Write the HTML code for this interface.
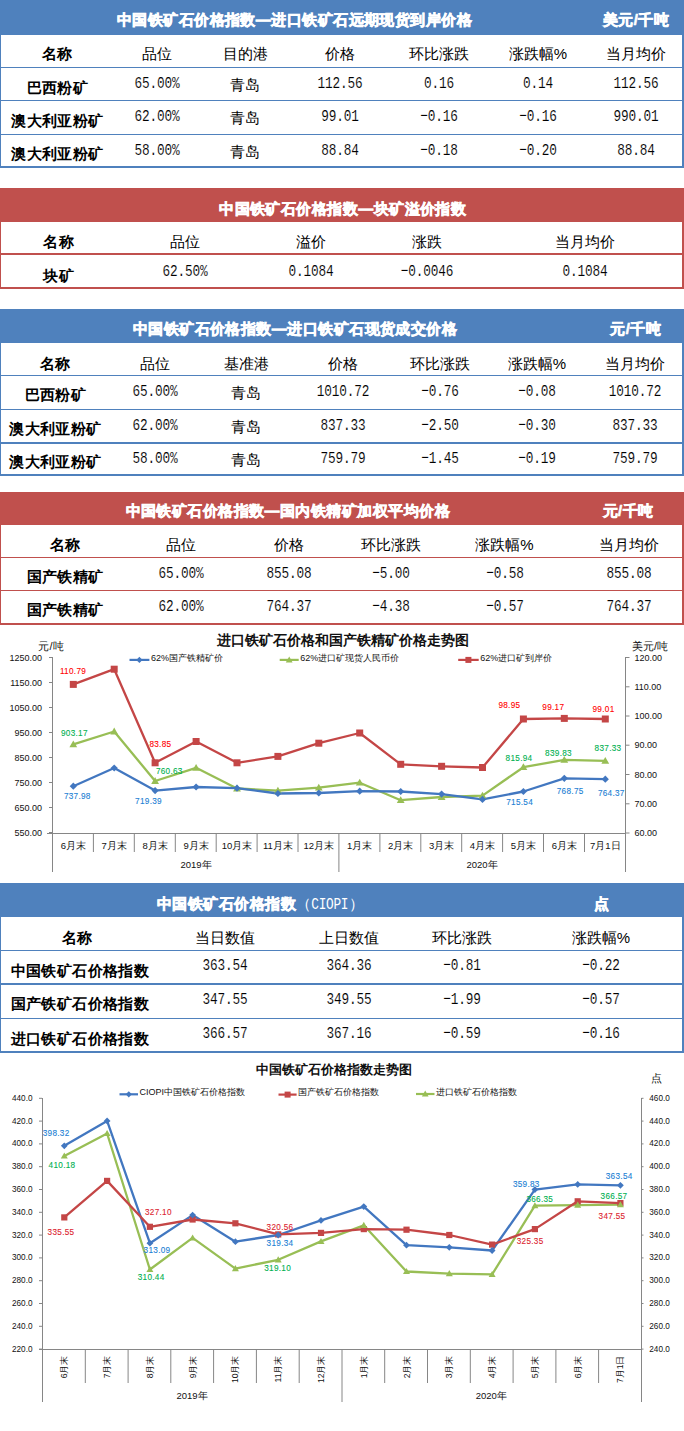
<!DOCTYPE html>
<html><head><meta charset="utf-8"><style>
html,body{margin:0;padding:0;background:#fff}
body{width:684px;height:1431px;position:relative;overflow:hidden;font-family:"Liberation Sans", sans-serif}
.t{position:absolute;white-space:nowrap;transform:translate(-50%,-50%);line-height:1}
.n{font-family:"Liberation Mono",monospace;letter-spacing:-0.2px;transform:translate(-50%,-50%) scale(0.85,1.12);-webkit-text-stroke:0.12px #fff}
.h{-webkit-text-stroke:0.6px #fff;letter-spacing:0.45px}
.r{font-weight:300 !important}
.b{letter-spacing:0.4px}
svg text{font-family:"Liberation Sans", sans-serif}
.ax{font-size:9px;fill:#111}
.ax2{font-size:8.2px;fill:#111}
.cat{font-size:9.5px;fill:#111}
.cat2{font-size:8.6px;fill:#111}
.title2{font-size:12.8px;font-weight:bold;fill:#111}
.title{font-size:13.75px;font-weight:bold;fill:#111}
.unit{font-size:11px;fill:#111}
.dl{font-size:8.2px;letter-spacing:0.3px}
.leg{font-size:9px;fill:#111;font-weight:300}
</style></head><body>
<div style="position:absolute;left:0px;top:0px;width:684px;height:35px;background:#4F81BD"></div>
<div style="position:absolute;left:0px;top:35px;width:1px;height:133px;background:#4F81BD"></div>
<div style="position:absolute;left:682px;top:35px;width:2px;height:133px;background:#4F81BD"></div>
<div style="position:absolute;left:0px;top:67px;width:684px;height:1px;background:#4F81BD"></div>
<div style="position:absolute;left:0px;top:100px;width:684px;height:1px;background:#4F81BD"></div>
<div style="position:absolute;left:0px;top:134px;width:684px;height:1px;background:#4F81BD"></div>
<div style="position:absolute;left:0px;top:166px;width:684px;height:2px;background:#4F81BD"></div>
<div class="t h" style="left:294.5px;top:19.4px;font-size:15px;font-weight:bold;color:#fff">中国铁矿石价格指数—进口铁矿石远期现货到岸价格</div>
<div class="t h" style="left:636px;top:19.4px;font-size:15px;font-weight:bold;color:#fff">美元/千吨</div>
<div class="t b" style="left:57.5px;top:52.5px;font-size:15px;font-weight:bold;color:#000">名称</div>
<div class="t r" style="left:157px;top:52.5px;font-size:15px;font-weight:normal;color:#000">品位</div>
<div class="t r" style="left:245px;top:52.5px;font-size:15px;font-weight:normal;color:#000">目的港</div>
<div class="t r" style="left:339.5px;top:52.5px;font-size:15px;font-weight:normal;color:#000">价格</div>
<div class="t r" style="left:438.5px;top:52.5px;font-size:15px;font-weight:normal;color:#000">环比涨跌</div>
<div class="t r" style="left:538px;top:52.5px;font-size:15px;font-weight:normal;color:#000">涨跌幅%</div>
<div class="t r" style="left:636px;top:52.5px;font-size:15px;font-weight:normal;color:#000">当月均价</div>
<div class="t b" style="left:57.5px;top:87px;font-size:15px;font-weight:bold;color:#000">巴西粉矿</div>
<div class="t n" style="left:157px;top:84px;font-size:15px;font-weight:normal;color:#000">65.00%</div>
<div class="t r" style="left:245px;top:84px;font-size:15px;font-weight:normal;color:#000">青岛</div>
<div class="t n" style="left:339.5px;top:84px;font-size:15px;font-weight:normal;color:#000">112.56</div>
<div class="t n" style="left:438.5px;top:84px;font-size:15px;font-weight:normal;color:#000">0.16</div>
<div class="t n" style="left:538px;top:84px;font-size:15px;font-weight:normal;color:#000">0.14</div>
<div class="t n" style="left:636px;top:84px;font-size:15px;font-weight:normal;color:#000">112.56</div>
<div class="t b" style="left:57.5px;top:120px;font-size:15px;font-weight:bold;color:#000">澳大利亚粉矿</div>
<div class="t n" style="left:157px;top:117px;font-size:15px;font-weight:normal;color:#000">62.00%</div>
<div class="t r" style="left:245px;top:117px;font-size:15px;font-weight:normal;color:#000">青岛</div>
<div class="t n" style="left:339.5px;top:117px;font-size:15px;font-weight:normal;color:#000">99.01</div>
<div class="t n" style="left:438.5px;top:117px;font-size:15px;font-weight:normal;color:#000">−0.16</div>
<div class="t n" style="left:538px;top:117px;font-size:15px;font-weight:normal;color:#000">−0.16</div>
<div class="t n" style="left:636px;top:117px;font-size:15px;font-weight:normal;color:#000">990.01</div>
<div class="t b" style="left:57.5px;top:152.5px;font-size:15px;font-weight:bold;color:#000">澳大利亚粉矿</div>
<div class="t n" style="left:157px;top:150.5px;font-size:15px;font-weight:normal;color:#000">58.00%</div>
<div class="t r" style="left:245px;top:150.5px;font-size:15px;font-weight:normal;color:#000">青岛</div>
<div class="t n" style="left:339.5px;top:150.5px;font-size:15px;font-weight:normal;color:#000">88.84</div>
<div class="t n" style="left:438.5px;top:150.5px;font-size:15px;font-weight:normal;color:#000">−0.18</div>
<div class="t n" style="left:538px;top:150.5px;font-size:15px;font-weight:normal;color:#000">−0.20</div>
<div class="t n" style="left:636px;top:150.5px;font-size:15px;font-weight:normal;color:#000">88.84</div>
<div style="position:absolute;left:0px;top:188px;width:684px;height:34px;background:#C0504D"></div>
<div style="position:absolute;left:0px;top:222px;width:1px;height:67px;background:#C0504D"></div>
<div style="position:absolute;left:682px;top:222px;width:2px;height:67px;background:#C0504D"></div>
<div style="position:absolute;left:0px;top:253px;width:684px;height:2px;background:#C0504D"></div>
<div style="position:absolute;left:0px;top:287px;width:684px;height:2px;background:#C0504D"></div>
<div class="t h" style="left:342.75px;top:207.9px;font-size:15px;font-weight:bold;color:#fff">中国铁矿石价格指数—块矿溢价指数</div>
<div class="t b" style="left:58.75px;top:241px;font-size:15px;font-weight:bold;color:#000">名称</div>
<div class="t r" style="left:185px;top:241px;font-size:15px;font-weight:normal;color:#000">品位</div>
<div class="t r" style="left:311px;top:241px;font-size:15px;font-weight:normal;color:#000">溢价</div>
<div class="t r" style="left:427px;top:241px;font-size:15px;font-weight:normal;color:#000">涨跌</div>
<div class="t r" style="left:584.5px;top:241px;font-size:15px;font-weight:normal;color:#000">当月均价</div>
<div class="t b" style="left:58.75px;top:275px;font-size:15px;font-weight:bold;color:#000">块矿</div>
<div class="t n" style="left:185px;top:272px;font-size:15px;font-weight:normal;color:#000">62.50%</div>
<div class="t n" style="left:311px;top:272px;font-size:15px;font-weight:normal;color:#000">0.1084</div>
<div class="t n" style="left:427px;top:272px;font-size:15px;font-weight:normal;color:#000">−0.0046</div>
<div class="t n" style="left:584.5px;top:272px;font-size:15px;font-weight:normal;color:#000">0.1084</div>
<div style="position:absolute;left:0px;top:309px;width:684px;height:34px;background:#4F81BD"></div>
<div style="position:absolute;left:0px;top:343px;width:1px;height:133px;background:#4F81BD"></div>
<div style="position:absolute;left:682px;top:343px;width:2px;height:133px;background:#4F81BD"></div>
<div style="position:absolute;left:0px;top:375px;width:684px;height:1px;background:#4F81BD"></div>
<div style="position:absolute;left:0px;top:409px;width:684px;height:1px;background:#4F81BD"></div>
<div style="position:absolute;left:0px;top:442px;width:684px;height:2px;background:#4F81BD"></div>
<div style="position:absolute;left:0px;top:474px;width:684px;height:2px;background:#4F81BD"></div>
<div class="t h" style="left:295px;top:327.9px;font-size:15px;font-weight:bold;color:#fff">中国铁矿石价格指数—进口铁矿石现货成交价格</div>
<div class="t h" style="left:635.75px;top:327.9px;font-size:15px;font-weight:bold;color:#fff">元/千吨</div>
<div class="t b" style="left:55.5px;top:362.5px;font-size:15px;font-weight:bold;color:#000">名称</div>
<div class="t r" style="left:155px;top:362.5px;font-size:15px;font-weight:normal;color:#000">品位</div>
<div class="t r" style="left:246px;top:362.5px;font-size:15px;font-weight:normal;color:#000">基准港</div>
<div class="t r" style="left:343px;top:362.5px;font-size:15px;font-weight:normal;color:#000">价格</div>
<div class="t r" style="left:440px;top:362.5px;font-size:15px;font-weight:normal;color:#000">环比涨跌</div>
<div class="t r" style="left:537px;top:362.5px;font-size:15px;font-weight:normal;color:#000">涨跌幅%</div>
<div class="t r" style="left:635px;top:362.5px;font-size:15px;font-weight:normal;color:#000">当月均价</div>
<div class="t b" style="left:55.5px;top:394.3px;font-size:15px;font-weight:bold;color:#000">巴西粉矿</div>
<div class="t n" style="left:155px;top:392px;font-size:15px;font-weight:normal;color:#000">65.00%</div>
<div class="t r" style="left:246px;top:392px;font-size:15px;font-weight:normal;color:#000">青岛</div>
<div class="t n" style="left:343px;top:392px;font-size:15px;font-weight:normal;color:#000">1010.72</div>
<div class="t n" style="left:440px;top:392px;font-size:15px;font-weight:normal;color:#000">−0.76</div>
<div class="t n" style="left:537px;top:392px;font-size:15px;font-weight:normal;color:#000">−0.08</div>
<div class="t n" style="left:635px;top:392px;font-size:15px;font-weight:normal;color:#000">1010.72</div>
<div class="t b" style="left:55.5px;top:427.8px;font-size:15px;font-weight:bold;color:#000">澳大利亚粉矿</div>
<div class="t n" style="left:155px;top:425.5px;font-size:15px;font-weight:normal;color:#000">62.00%</div>
<div class="t r" style="left:246px;top:425.5px;font-size:15px;font-weight:normal;color:#000">青岛</div>
<div class="t n" style="left:343px;top:425.5px;font-size:15px;font-weight:normal;color:#000">837.33</div>
<div class="t n" style="left:440px;top:425.5px;font-size:15px;font-weight:normal;color:#000">−2.50</div>
<div class="t n" style="left:537px;top:425.5px;font-size:15px;font-weight:normal;color:#000">−0.30</div>
<div class="t n" style="left:635px;top:425.5px;font-size:15px;font-weight:normal;color:#000">837.33</div>
<div class="t b" style="left:55.5px;top:461.3px;font-size:15px;font-weight:bold;color:#000">澳大利亚粉矿</div>
<div class="t n" style="left:155px;top:459px;font-size:15px;font-weight:normal;color:#000">58.00%</div>
<div class="t r" style="left:246px;top:459px;font-size:15px;font-weight:normal;color:#000">青岛</div>
<div class="t n" style="left:343px;top:459px;font-size:15px;font-weight:normal;color:#000">759.79</div>
<div class="t n" style="left:440px;top:459px;font-size:15px;font-weight:normal;color:#000">−1.45</div>
<div class="t n" style="left:537px;top:459px;font-size:15px;font-weight:normal;color:#000">−0.19</div>
<div class="t n" style="left:635px;top:459px;font-size:15px;font-weight:normal;color:#000">759.79</div>
<div style="position:absolute;left:0px;top:492px;width:684px;height:33px;background:#C0504D"></div>
<div style="position:absolute;left:0px;top:525px;width:1px;height:100px;background:#C0504D"></div>
<div style="position:absolute;left:682px;top:525px;width:2px;height:100px;background:#C0504D"></div>
<div style="position:absolute;left:0px;top:557px;width:684px;height:1px;background:#C0504D"></div>
<div style="position:absolute;left:0px;top:590px;width:684px;height:1px;background:#C0504D"></div>
<div style="position:absolute;left:0px;top:623px;width:684px;height:2px;background:#C0504D"></div>
<div class="t h" style="left:287.75px;top:510.4px;font-size:15px;font-weight:bold;color:#fff">中国铁矿石价格指数—国内铁精矿加权平均价格</div>
<div class="t h" style="left:628px;top:510.4px;font-size:15px;font-weight:bold;color:#fff">元/千吨</div>
<div class="t b" style="left:65px;top:544px;font-size:15px;font-weight:bold;color:#000">名称</div>
<div class="t r" style="left:181px;top:544px;font-size:15px;font-weight:normal;color:#000">品位</div>
<div class="t r" style="left:289px;top:544px;font-size:15px;font-weight:normal;color:#000">价格</div>
<div class="t r" style="left:390.5px;top:544px;font-size:15px;font-weight:normal;color:#000">环比涨跌</div>
<div class="t r" style="left:504.5px;top:544px;font-size:15px;font-weight:normal;color:#000">涨跌幅%</div>
<div class="t r" style="left:629px;top:544px;font-size:15px;font-weight:normal;color:#000">当月均价</div>
<div class="t b" style="left:65px;top:576.0px;font-size:15px;font-weight:bold;color:#000">国产铁精矿</div>
<div class="t n" style="left:181px;top:573.5px;font-size:15px;font-weight:normal;color:#000">65.00%</div>
<div class="t n" style="left:289px;top:573.5px;font-size:15px;font-weight:normal;color:#000">855.08</div>
<div class="t n" style="left:390.5px;top:573.5px;font-size:15px;font-weight:normal;color:#000">−5.00</div>
<div class="t n" style="left:504.5px;top:573.5px;font-size:15px;font-weight:normal;color:#000">−0.58</div>
<div class="t n" style="left:629px;top:573.5px;font-size:15px;font-weight:normal;color:#000">855.08</div>
<div class="t b" style="left:65px;top:609.0px;font-size:15px;font-weight:bold;color:#000">国产铁精矿</div>
<div class="t n" style="left:181px;top:606.5px;font-size:15px;font-weight:normal;color:#000">62.00%</div>
<div class="t n" style="left:289px;top:606.5px;font-size:15px;font-weight:normal;color:#000">764.37</div>
<div class="t n" style="left:390.5px;top:606.5px;font-size:15px;font-weight:normal;color:#000">−4.38</div>
<div class="t n" style="left:504.5px;top:606.5px;font-size:15px;font-weight:normal;color:#000">−0.57</div>
<div class="t n" style="left:629px;top:606.5px;font-size:15px;font-weight:normal;color:#000">764.37</div>
<div style="position:absolute;left:0px;top:883px;width:684px;height:34px;background:#4F81BD"></div>
<div style="position:absolute;left:0px;top:917px;width:1px;height:136px;background:#4F81BD"></div>
<div style="position:absolute;left:682px;top:917px;width:2px;height:136px;background:#4F81BD"></div>
<div style="position:absolute;left:0px;top:950px;width:684px;height:1px;background:#4F81BD"></div>
<div style="position:absolute;left:0px;top:983px;width:684px;height:2px;background:#4F81BD"></div>
<div style="position:absolute;left:0px;top:1018px;width:684px;height:1px;background:#4F81BD"></div>
<div style="position:absolute;left:0px;top:1051px;width:684px;height:2px;background:#4F81BD"></div>
<div class="t h" style="left:157px;top:903.8px;transform:translate(0,-50%);font-size:15px;font-weight:bold;color:#fff">中国铁矿石价格指数<span style="font-weight:normal;-webkit-text-stroke:0;letter-spacing:0">（<span style="font-family:Liberation Mono;display:inline-block;transform:scale(0.85,1.12);letter-spacing:-0.3px;margin:0 -3px">CIOPI</span>）</span></div>
<div class="t h" style="left:602px;top:903.4px;font-size:15px;font-weight:bold;color:#fff">点</div>
<div class="t b" style="left:77.5px;top:937px;font-size:15px;font-weight:bold;color:#000">名称</div>
<div class="t r" style="left:224.6px;top:937px;font-size:15px;font-weight:normal;color:#000">当日数值</div>
<div class="t r" style="left:349px;top:937px;font-size:15px;font-weight:normal;color:#000">上日数值</div>
<div class="t r" style="left:462px;top:937px;font-size:15px;font-weight:normal;color:#000">环比涨跌</div>
<div class="t r" style="left:601px;top:937px;font-size:15px;font-weight:normal;color:#000">涨跌幅%</div>
<div class="t b" style="left:80px;top:969.9px;font-size:15px;font-weight:bold;color:#000">中国铁矿石价格指数</div>
<div class="t n" style="left:224.6px;top:966.4px;font-size:15px;font-weight:normal;color:#000">363.54</div>
<div class="t n" style="left:349px;top:966.4px;font-size:15px;font-weight:normal;color:#000">364.36</div>
<div class="t n" style="left:462px;top:966.4px;font-size:15px;font-weight:normal;color:#000">−0.81</div>
<div class="t n" style="left:601px;top:966.4px;font-size:15px;font-weight:normal;color:#000">−0.22</div>
<div class="t b" style="left:80px;top:1003.2px;font-size:15px;font-weight:bold;color:#000">国产铁矿石价格指数</div>
<div class="t n" style="left:224.6px;top:999.7px;font-size:15px;font-weight:normal;color:#000">347.55</div>
<div class="t n" style="left:349px;top:999.7px;font-size:15px;font-weight:normal;color:#000">349.55</div>
<div class="t n" style="left:462px;top:999.7px;font-size:15px;font-weight:normal;color:#000">−1.99</div>
<div class="t n" style="left:601px;top:999.7px;font-size:15px;font-weight:normal;color:#000">−0.57</div>
<div class="t b" style="left:80px;top:1037.9px;font-size:15px;font-weight:bold;color:#000">进口铁矿石价格指数</div>
<div class="t n" style="left:224.6px;top:1034.4px;font-size:15px;font-weight:normal;color:#000">366.57</div>
<div class="t n" style="left:349px;top:1034.4px;font-size:15px;font-weight:normal;color:#000">367.16</div>
<div class="t n" style="left:462px;top:1034.4px;font-size:15px;font-weight:normal;color:#000">−0.59</div>
<div class="t n" style="left:601px;top:1034.4px;font-size:15px;font-weight:normal;color:#000">−0.16</div>
<svg width="684" height="1431" style="position:absolute;left:0;top:0">
<line x1="52.5" y1="657" x2="52.5" y2="872" stroke="#868686" stroke-width="1"/>
<line x1="49" y1="657.5" x2="52" y2="657.5" stroke="#868686"/>
<text x="42" y="660.5" text-anchor="end" class="ax">1250.00</text>
<line x1="49" y1="682.5" x2="52" y2="682.5" stroke="#868686"/>
<text x="42" y="685.5" text-anchor="end" class="ax">1150.00</text>
<line x1="49" y1="707.5" x2="52" y2="707.5" stroke="#868686"/>
<text x="42" y="710.5" text-anchor="end" class="ax">1050.00</text>
<line x1="49" y1="732.5" x2="52" y2="732.5" stroke="#868686"/>
<text x="42" y="735.5" text-anchor="end" class="ax">950.00</text>
<line x1="49" y1="757.5" x2="52" y2="757.5" stroke="#868686"/>
<text x="42" y="760.5" text-anchor="end" class="ax">850.00</text>
<line x1="49" y1="782.5" x2="52" y2="782.5" stroke="#868686"/>
<text x="42" y="785.5" text-anchor="end" class="ax">750.00</text>
<line x1="49" y1="807.5" x2="52" y2="807.5" stroke="#868686"/>
<text x="42" y="810.5" text-anchor="end" class="ax">650.00</text>
<line x1="49" y1="832.5" x2="52" y2="832.5" stroke="#868686"/>
<text x="42" y="835.5" text-anchor="end" class="ax">550.00</text>
<line x1="625.5" y1="657" x2="625.5" y2="872" stroke="#868686"/>
<line x1="626" y1="657.5" x2="629.5" y2="657.5" stroke="#868686"/>
<text x="634.5" y="660.5" class="ax">120.00</text>
<line x1="626" y1="686.8" x2="629.5" y2="686.8" stroke="#868686"/>
<text x="634.5" y="689.8" class="ax">110.00</text>
<line x1="626" y1="716.0" x2="629.5" y2="716.0" stroke="#868686"/>
<text x="634.5" y="719.0" class="ax">100.00</text>
<line x1="626" y1="745.2" x2="629.5" y2="745.2" stroke="#868686"/>
<text x="634.5" y="748.2" class="ax">90.00</text>
<line x1="626" y1="774.5" x2="629.5" y2="774.5" stroke="#868686"/>
<text x="634.5" y="777.5" class="ax">80.00</text>
<line x1="626" y1="803.8" x2="629.5" y2="803.8" stroke="#868686"/>
<text x="634.5" y="806.8" class="ax">70.00</text>
<line x1="626" y1="833.0" x2="629.5" y2="833.0" stroke="#868686"/>
<text x="634.5" y="836.0" class="ax">60.00</text>
<line x1="47" y1="833.5" x2="626" y2="833.5" stroke="#868686"/>
<line x1="93.4" y1="833" x2="93.4" y2="852" stroke="#868686"/>
<line x1="134.3" y1="833" x2="134.3" y2="852" stroke="#868686"/>
<line x1="175.3" y1="833" x2="175.3" y2="852" stroke="#868686"/>
<line x1="216.2" y1="833" x2="216.2" y2="852" stroke="#868686"/>
<line x1="257.1" y1="833" x2="257.1" y2="852" stroke="#868686"/>
<line x1="298.0" y1="833" x2="298.0" y2="852" stroke="#868686"/>
<line x1="338.9" y1="833" x2="338.9" y2="872" stroke="#868686"/>
<line x1="379.9" y1="833" x2="379.9" y2="852" stroke="#868686"/>
<line x1="420.8" y1="833" x2="420.8" y2="852" stroke="#868686"/>
<line x1="461.7" y1="833" x2="461.7" y2="852" stroke="#868686"/>
<line x1="502.6" y1="833" x2="502.6" y2="852" stroke="#868686"/>
<line x1="543.5" y1="833" x2="543.5" y2="852" stroke="#868686"/>
<line x1="584.5" y1="833" x2="584.5" y2="852" stroke="#868686"/>
<text x="73.3" y="849" text-anchor="middle" class="cat">6月末</text>
<text x="114.2" y="849" text-anchor="middle" class="cat">7月末</text>
<text x="155.1" y="849" text-anchor="middle" class="cat">8月末</text>
<text x="196.1" y="849" text-anchor="middle" class="cat">9月末</text>
<text x="237.0" y="849" text-anchor="middle" class="cat">10月末</text>
<text x="277.9" y="849" text-anchor="middle" class="cat">11月末</text>
<text x="318.8" y="849" text-anchor="middle" class="cat">12月末</text>
<text x="359.7" y="849" text-anchor="middle" class="cat">1月末</text>
<text x="400.7" y="849" text-anchor="middle" class="cat">2月末</text>
<text x="441.6" y="849" text-anchor="middle" class="cat">3月末</text>
<text x="482.5" y="849" text-anchor="middle" class="cat">4月末</text>
<text x="523.4" y="849" text-anchor="middle" class="cat">5月末</text>
<text x="564.3" y="849" text-anchor="middle" class="cat">6月末</text>
<text x="605.3" y="849" text-anchor="middle" class="cat">7月1日</text>
<text x="196" y="868" text-anchor="middle" class="cat">2019年</text>
<text x="482" y="868" text-anchor="middle" class="cat">2020年</text>
<text x="342.75" y="644.7" text-anchor="middle" class="title">进口铁矿石价格和国产铁精矿价格走势图</text>
<text x="51" y="650" text-anchor="middle" class="unit">元/吨</text>
<text x="650" y="650" text-anchor="middle" class="unit">美元/吨</text>
<polyline fill="none" stroke="#C44646" stroke-width="2.3" stroke-linejoin="round" points="73.3,684.4 114.2,669.2 155.1,762.8 196.1,741.5 237.0,762.8 277.9,756.4 318.8,743.2 359.7,733.0 400.7,764.3 441.6,766.3 482.5,767.5 523.4,719.0 564.3,718.4 605.3,719.0"/>
<polyline fill="none" stroke="#98BE55" stroke-width="2.3" stroke-linejoin="round" points="73.3,744.4 114.2,731.5 155.1,781.0 196.1,767.8 237.0,788.5 277.9,790.6 318.8,787.7 359.7,782.7 400.7,800.2 441.6,797.0 482.5,795.6 523.4,767.2 564.3,759.9 605.3,760.8"/>
<polyline fill="none" stroke="#4277C0" stroke-width="2.3" stroke-linejoin="round" points="73.3,786.2 114.2,768.0 155.1,790.6 196.1,787.0 237.0,788.2 277.9,793.5 318.8,793.0 359.7,791.2 400.7,791.5 441.6,794.1 482.5,799.4 523.4,791.5 564.3,778.3 605.3,779.2"/>
<rect x="69.8" y="680.9" width="7.0" height="7.0" fill="#C44646"/>
<rect x="110.7" y="665.7" width="7.0" height="7.0" fill="#C44646"/>
<rect x="151.6" y="759.3" width="7.0" height="7.0" fill="#C44646"/>
<rect x="192.6" y="738.0" width="7.0" height="7.0" fill="#C44646"/>
<rect x="233.5" y="759.3" width="7.0" height="7.0" fill="#C44646"/>
<rect x="274.4" y="752.9" width="7.0" height="7.0" fill="#C44646"/>
<rect x="315.3" y="739.7" width="7.0" height="7.0" fill="#C44646"/>
<rect x="356.2" y="729.5" width="7.0" height="7.0" fill="#C44646"/>
<rect x="397.2" y="760.8" width="7.0" height="7.0" fill="#C44646"/>
<rect x="438.1" y="762.8" width="7.0" height="7.0" fill="#C44646"/>
<rect x="479.0" y="764.0" width="7.0" height="7.0" fill="#C44646"/>
<rect x="519.9" y="715.5" width="7.0" height="7.0" fill="#C44646"/>
<rect x="560.8" y="714.9" width="7.0" height="7.0" fill="#C44646"/>
<rect x="601.8" y="715.5" width="7.0" height="7.0" fill="#C44646"/>
<path d="M73.3 740.5L77.2 747.3L69.4 747.3Z" fill="#98BE55"/>
<path d="M114.2 727.6L118.1 734.4L110.3 734.4Z" fill="#98BE55"/>
<path d="M155.1 777.1L159.0 783.9L151.2 783.9Z" fill="#98BE55"/>
<path d="M196.1 763.9L200.0 770.7L192.2 770.7Z" fill="#98BE55"/>
<path d="M237.0 784.6L240.9 791.4L233.1 791.4Z" fill="#98BE55"/>
<path d="M277.9 786.7L281.8 793.5L274.0 793.5Z" fill="#98BE55"/>
<path d="M318.8 783.8L322.7 790.6L314.9 790.6Z" fill="#98BE55"/>
<path d="M359.7 778.8L363.6 785.6L355.8 785.6Z" fill="#98BE55"/>
<path d="M400.7 796.3L404.6 803.1L396.8 803.1Z" fill="#98BE55"/>
<path d="M441.6 793.1L445.5 799.9L437.7 799.9Z" fill="#98BE55"/>
<path d="M482.5 791.7L486.4 798.5L478.6 798.5Z" fill="#98BE55"/>
<path d="M523.4 763.3L527.3 770.1L519.5 770.1Z" fill="#98BE55"/>
<path d="M564.3 756.0L568.2 762.8L560.4 762.8Z" fill="#98BE55"/>
<path d="M605.3 756.9L609.2 763.7L601.4 763.7Z" fill="#98BE55"/>
<path d="M73.3 782.6L76.9 786.2L73.3 789.8L69.7 786.2Z" fill="#4277C0"/>
<path d="M114.2 764.4L117.8 768.0L114.2 771.6L110.6 768.0Z" fill="#4277C0"/>
<path d="M155.1 787.0L158.7 790.6L155.1 794.2L151.5 790.6Z" fill="#4277C0"/>
<path d="M196.1 783.4L199.7 787.0L196.1 790.6L192.5 787.0Z" fill="#4277C0"/>
<path d="M237.0 784.6L240.6 788.2L237.0 791.8L233.4 788.2Z" fill="#4277C0"/>
<path d="M277.9 789.9L281.5 793.5L277.9 797.1L274.3 793.5Z" fill="#4277C0"/>
<path d="M318.8 789.4L322.4 793.0L318.8 796.6L315.2 793.0Z" fill="#4277C0"/>
<path d="M359.7 787.6L363.3 791.2L359.7 794.8L356.1 791.2Z" fill="#4277C0"/>
<path d="M400.7 787.9L404.3 791.5L400.7 795.1L397.1 791.5Z" fill="#4277C0"/>
<path d="M441.6 790.5L445.2 794.1L441.6 797.7L438.0 794.1Z" fill="#4277C0"/>
<path d="M482.5 795.8L486.1 799.4L482.5 803.0L478.9 799.4Z" fill="#4277C0"/>
<path d="M523.4 787.9L527.0 791.5L523.4 795.1L519.8 791.5Z" fill="#4277C0"/>
<path d="M564.3 774.7L567.9 778.3L564.3 781.9L560.7 778.3Z" fill="#4277C0"/>
<path d="M605.3 775.6L608.9 779.2L605.3 782.8L601.7 779.2Z" fill="#4277C0"/>
<text x="73" y="673.7" text-anchor="middle" class="dl" fill="#FF0000" stroke="#FF0000" stroke-width="0.1">110.79</text>
<text x="160.4" y="747.4" text-anchor="middle" class="dl" fill="#FF0000" stroke="#FF0000" stroke-width="0.1">83.85</text>
<text x="509.4" y="707.7" text-anchor="middle" class="dl" fill="#FF0000" stroke="#FF0000" stroke-width="0.1">98.95</text>
<text x="553.3" y="710.0" text-anchor="middle" class="dl" fill="#FF0000" stroke="#FF0000" stroke-width="0.1">99.17</text>
<text x="603.5" y="711.7" text-anchor="middle" class="dl" fill="#FF0000" stroke="#FF0000" stroke-width="0.1">99.01</text>
<text x="74.4" y="735.7" text-anchor="middle" class="dl" fill="#00B050" stroke="#00B050" stroke-width="0.1">903.17</text>
<text x="169.3" y="774.3" text-anchor="middle" class="dl" fill="#00B050" stroke="#00B050" stroke-width="0.1">760.63</text>
<text x="519" y="760.5" text-anchor="middle" class="dl" fill="#00B050" stroke="#00B050" stroke-width="0.1">815.94</text>
<text x="558.5" y="755.9" text-anchor="middle" class="dl" fill="#00B050" stroke="#00B050" stroke-width="0.1">839.83</text>
<text x="608" y="750.7" text-anchor="middle" class="dl" fill="#00B050" stroke="#00B050" stroke-width="0.1">837.33</text>
<text x="77.3" y="798.5" text-anchor="middle" class="dl" fill="#1A80D4" stroke="#1A80D4" stroke-width="0.1">737.98</text>
<text x="148.5" y="803.5" text-anchor="middle" class="dl" fill="#1A80D4" stroke="#1A80D4" stroke-width="0.1">719.39</text>
<text x="519.6" y="805.0" text-anchor="middle" class="dl" fill="#1A80D4" stroke="#1A80D4" stroke-width="0.1">715.54</text>
<text x="570.2" y="793.9" text-anchor="middle" class="dl" fill="#1A80D4" stroke="#1A80D4" stroke-width="0.1">768.75</text>
<text x="611.3" y="796.2" text-anchor="middle" class="dl" fill="#1A80D4" stroke="#1A80D4" stroke-width="0.1">764.37</text>
<line x1="129.5" y1="659.9" x2="149.4" y2="659.9" stroke="#4277C0" stroke-width="2.2"/>
<path d="M139.4 656.8L142.5 659.9L139.4 663.0L136.3 659.9Z" fill="#4277C0"/>
<text x="150.9" y="660.5" class="leg">62%国产铁精矿价</text>
<line x1="279.7" y1="659.9" x2="298.7" y2="659.9" stroke="#98BE55" stroke-width="2.2"/>
<path d="M289.2 656.5L292.6 662.4L285.8 662.4Z" fill="#98BE55"/>
<text x="300.2" y="660.5" class="leg">62%进口矿现货人民币价</text>
<line x1="458.2" y1="659.9" x2="478.7" y2="659.9" stroke="#C44646" stroke-width="2.2"/>
<rect x="465.4" y="656.9" width="6" height="6" fill="#C44646"/>
<text x="480.2" y="660.5" class="leg">62%进口矿到岸价</text>
<line x1="42.5" y1="1098" x2="42.5" y2="1402" stroke="#868686"/>
<line x1="39" y1="1098.3" x2="42" y2="1098.3" stroke="#868686"/>
<text x="32.5" y="1100.7" text-anchor="end" class="ax2">440.0</text>
<line x1="39" y1="1121.1" x2="42" y2="1121.1" stroke="#868686"/>
<text x="32.5" y="1123.5" text-anchor="end" class="ax2">420.0</text>
<line x1="39" y1="1143.9" x2="42" y2="1143.9" stroke="#868686"/>
<text x="32.5" y="1146.3" text-anchor="end" class="ax2">400.0</text>
<line x1="39" y1="1166.7" x2="42" y2="1166.7" stroke="#868686"/>
<text x="32.5" y="1169.1" text-anchor="end" class="ax2">380.0</text>
<line x1="39" y1="1189.5" x2="42" y2="1189.5" stroke="#868686"/>
<text x="32.5" y="1191.9" text-anchor="end" class="ax2">360.0</text>
<line x1="39" y1="1212.3" x2="42" y2="1212.3" stroke="#868686"/>
<text x="32.5" y="1214.7" text-anchor="end" class="ax2">340.0</text>
<line x1="39" y1="1235.1" x2="42" y2="1235.1" stroke="#868686"/>
<text x="32.5" y="1237.5" text-anchor="end" class="ax2">320.0</text>
<line x1="39" y1="1257.9" x2="42" y2="1257.9" stroke="#868686"/>
<text x="32.5" y="1260.3" text-anchor="end" class="ax2">300.0</text>
<line x1="39" y1="1280.7" x2="42" y2="1280.7" stroke="#868686"/>
<text x="32.5" y="1283.1" text-anchor="end" class="ax2">280.0</text>
<line x1="39" y1="1303.5" x2="42" y2="1303.5" stroke="#868686"/>
<text x="32.5" y="1305.9" text-anchor="end" class="ax2">260.0</text>
<line x1="39" y1="1326.3" x2="42" y2="1326.3" stroke="#868686"/>
<text x="32.5" y="1328.7" text-anchor="end" class="ax2">240.0</text>
<line x1="39" y1="1349.1" x2="42" y2="1349.1" stroke="#868686"/>
<text x="32.5" y="1351.5" text-anchor="end" class="ax2">220.0</text>
<line x1="641.5" y1="1098" x2="641.5" y2="1402" stroke="#868686"/>
<line x1="641.5" y1="1098.3" x2="643.5" y2="1098.3" stroke="#868686"/>
<text x="649.3" y="1100.7" class="ax2">460.0</text>
<line x1="641.5" y1="1121.1" x2="643.5" y2="1121.1" stroke="#868686"/>
<text x="649.3" y="1123.5" class="ax2">440.0</text>
<line x1="641.5" y1="1143.9" x2="643.5" y2="1143.9" stroke="#868686"/>
<text x="649.3" y="1146.3" class="ax2">420.0</text>
<line x1="641.5" y1="1166.7" x2="643.5" y2="1166.7" stroke="#868686"/>
<text x="649.3" y="1169.1" class="ax2">400.0</text>
<line x1="641.5" y1="1189.5" x2="643.5" y2="1189.5" stroke="#868686"/>
<text x="649.3" y="1191.9" class="ax2">380.0</text>
<line x1="641.5" y1="1212.3" x2="643.5" y2="1212.3" stroke="#868686"/>
<text x="649.3" y="1214.7" class="ax2">360.0</text>
<line x1="641.5" y1="1235.1" x2="643.5" y2="1235.1" stroke="#868686"/>
<text x="649.3" y="1237.5" class="ax2">340.0</text>
<line x1="641.5" y1="1257.9" x2="643.5" y2="1257.9" stroke="#868686"/>
<text x="649.3" y="1260.3" class="ax2">320.0</text>
<line x1="641.5" y1="1280.7" x2="643.5" y2="1280.7" stroke="#868686"/>
<text x="649.3" y="1283.1" class="ax2">300.0</text>
<line x1="641.5" y1="1303.5" x2="643.5" y2="1303.5" stroke="#868686"/>
<text x="649.3" y="1305.9" class="ax2">280.0</text>
<line x1="641.5" y1="1326.3" x2="643.5" y2="1326.3" stroke="#868686"/>
<text x="649.3" y="1328.7" class="ax2">260.0</text>
<line x1="641.5" y1="1349.1" x2="643.5" y2="1349.1" stroke="#868686"/>
<text x="649.3" y="1351.5" class="ax2">240.0</text>
<line x1="39" y1="1349.5" x2="641" y2="1349.5" stroke="#868686"/>
<line x1="85.3" y1="1349" x2="85.3" y2="1383" stroke="#868686"/>
<line x1="128.1" y1="1349" x2="128.1" y2="1383" stroke="#868686"/>
<line x1="170.8" y1="1349" x2="170.8" y2="1383" stroke="#868686"/>
<line x1="213.6" y1="1349" x2="213.6" y2="1383" stroke="#868686"/>
<line x1="256.4" y1="1349" x2="256.4" y2="1383" stroke="#868686"/>
<line x1="299.2" y1="1349" x2="299.2" y2="1383" stroke="#868686"/>
<line x1="342.0" y1="1349" x2="342.0" y2="1402" stroke="#868686"/>
<line x1="384.7" y1="1349" x2="384.7" y2="1383" stroke="#868686"/>
<line x1="427.5" y1="1349" x2="427.5" y2="1383" stroke="#868686"/>
<line x1="470.3" y1="1349" x2="470.3" y2="1383" stroke="#868686"/>
<line x1="513.1" y1="1349" x2="513.1" y2="1383" stroke="#868686"/>
<line x1="555.9" y1="1349" x2="555.9" y2="1383" stroke="#868686"/>
<line x1="598.6" y1="1349" x2="598.6" y2="1383" stroke="#868686"/>
<text transform="translate(67.3,1355.5) rotate(-90)" text-anchor="end" class="cat2">6月末</text>
<text transform="translate(110.1,1355.5) rotate(-90)" text-anchor="end" class="cat2">7月末</text>
<text transform="translate(152.9,1355.5) rotate(-90)" text-anchor="end" class="cat2">8月末</text>
<text transform="translate(195.6,1355.5) rotate(-90)" text-anchor="end" class="cat2">9月末</text>
<text transform="translate(238.4,1355.5) rotate(-90)" text-anchor="end" class="cat2">10月末</text>
<text transform="translate(281.2,1355.5) rotate(-90)" text-anchor="end" class="cat2">11月末</text>
<text transform="translate(324.0,1355.5) rotate(-90)" text-anchor="end" class="cat2">12月末</text>
<text transform="translate(366.8,1355.5) rotate(-90)" text-anchor="end" class="cat2">1月末</text>
<text transform="translate(409.5,1355.5) rotate(-90)" text-anchor="end" class="cat2">2月末</text>
<text transform="translate(452.3,1355.5) rotate(-90)" text-anchor="end" class="cat2">3月末</text>
<text transform="translate(495.1,1355.5) rotate(-90)" text-anchor="end" class="cat2">4月末</text>
<text transform="translate(537.9,1355.5) rotate(-90)" text-anchor="end" class="cat2">5月末</text>
<text transform="translate(580.7,1355.5) rotate(-90)" text-anchor="end" class="cat2">6月末</text>
<text transform="translate(623.4,1355.5) rotate(-90)" text-anchor="end" class="cat2">7月1日</text>
<text x="192" y="1398.5" text-anchor="middle" class="cat">2019年</text>
<text x="491.3" y="1398.5" text-anchor="middle" class="cat">2020年</text>
<text x="333.5" y="1074" text-anchor="middle" class="title2">中国铁矿石价格指数走势图</text>
<text x="656.2" y="1082" text-anchor="middle" class="unit">点</text>
<polyline fill="none" stroke="#4277C0" stroke-width="2.3" stroke-linejoin="round" points="64.3,1145.8 107.1,1120.9 149.9,1243.2 192.6,1215.1 235.4,1241.7 278.2,1235.0 321.0,1220.4 363.8,1206.6 406.5,1245.2 449.3,1247.3 492.1,1250.5 534.9,1189.6 577.7,1184.4 620.4,1185.3"/>
<polyline fill="none" stroke="#98BE55" stroke-width="2.3" stroke-linejoin="round" points="64.3,1156.0 107.1,1133.5 149.9,1269.5 192.6,1237.9 235.4,1268.6 278.2,1259.8 321.0,1241.4 363.8,1225.3 406.5,1271.5 449.3,1273.6 492.1,1274.4 534.9,1205.7 577.7,1205.1 620.4,1204.7"/>
<polyline fill="none" stroke="#C44646" stroke-width="2.3" stroke-linejoin="round" points="64.3,1217.4 107.1,1180.9 149.9,1226.8 192.6,1219.5 235.4,1223.3 278.2,1234.4 321.0,1232.9 363.8,1229.1 406.5,1229.7 449.3,1235.0 492.1,1244.6 534.9,1229.1 577.7,1201.3 620.4,1203.1"/>
<rect x="61.2" y="1214.3" width="6.2" height="6.2" fill="#C44646"/>
<rect x="104.0" y="1177.8" width="6.2" height="6.2" fill="#C44646"/>
<rect x="146.8" y="1223.7" width="6.2" height="6.2" fill="#C44646"/>
<rect x="189.5" y="1216.4" width="6.2" height="6.2" fill="#C44646"/>
<rect x="232.3" y="1220.2" width="6.2" height="6.2" fill="#C44646"/>
<rect x="275.1" y="1231.3" width="6.2" height="6.2" fill="#C44646"/>
<rect x="317.9" y="1229.8" width="6.2" height="6.2" fill="#C44646"/>
<rect x="360.7" y="1226.0" width="6.2" height="6.2" fill="#C44646"/>
<rect x="403.4" y="1226.6" width="6.2" height="6.2" fill="#C44646"/>
<rect x="446.2" y="1231.9" width="6.2" height="6.2" fill="#C44646"/>
<rect x="489.0" y="1241.5" width="6.2" height="6.2" fill="#C44646"/>
<rect x="531.8" y="1226.0" width="6.2" height="6.2" fill="#C44646"/>
<rect x="574.6" y="1198.2" width="6.2" height="6.2" fill="#C44646"/>
<rect x="617.3" y="1200.0" width="6.2" height="6.2" fill="#C44646"/>
<path d="M64.3 1152.5L67.8 1158.6L60.8 1158.6Z" fill="#98BE55"/>
<path d="M107.1 1130.0L110.6 1136.1L103.6 1136.1Z" fill="#98BE55"/>
<path d="M149.9 1266.0L153.4 1272.1L146.4 1272.1Z" fill="#98BE55"/>
<path d="M192.6 1234.4L196.1 1240.5L189.1 1240.5Z" fill="#98BE55"/>
<path d="M235.4 1265.1L238.9 1271.2L231.9 1271.2Z" fill="#98BE55"/>
<path d="M278.2 1256.3L281.7 1262.4L274.7 1262.4Z" fill="#98BE55"/>
<path d="M321.0 1237.9L324.5 1244.0L317.5 1244.0Z" fill="#98BE55"/>
<path d="M363.8 1221.8L367.3 1227.9L360.3 1227.9Z" fill="#98BE55"/>
<path d="M406.5 1268.0L410.0 1274.1L403.0 1274.1Z" fill="#98BE55"/>
<path d="M449.3 1270.1L452.8 1276.2L445.8 1276.2Z" fill="#98BE55"/>
<path d="M492.1 1270.9L495.6 1277.0L488.6 1277.0Z" fill="#98BE55"/>
<path d="M534.9 1202.2L538.4 1208.3L531.4 1208.3Z" fill="#98BE55"/>
<path d="M577.7 1201.6L581.2 1207.7L574.2 1207.7Z" fill="#98BE55"/>
<path d="M620.4 1201.2L623.9 1207.3L616.9 1207.3Z" fill="#98BE55"/>
<path d="M64.3 1142.4L67.7 1145.8L64.3 1149.2L60.9 1145.8Z" fill="#4277C0"/>
<path d="M107.1 1117.5L110.5 1120.9L107.1 1124.3L103.7 1120.9Z" fill="#4277C0"/>
<path d="M149.9 1239.8L153.3 1243.2L149.9 1246.6L146.5 1243.2Z" fill="#4277C0"/>
<path d="M192.6 1211.7L196.0 1215.1L192.6 1218.5L189.2 1215.1Z" fill="#4277C0"/>
<path d="M235.4 1238.3L238.8 1241.7L235.4 1245.1L232.0 1241.7Z" fill="#4277C0"/>
<path d="M278.2 1231.6L281.6 1235.0L278.2 1238.4L274.8 1235.0Z" fill="#4277C0"/>
<path d="M321.0 1217.0L324.4 1220.4L321.0 1223.8L317.6 1220.4Z" fill="#4277C0"/>
<path d="M363.8 1203.2L367.2 1206.6L363.8 1210.0L360.4 1206.6Z" fill="#4277C0"/>
<path d="M406.5 1241.8L409.9 1245.2L406.5 1248.6L403.1 1245.2Z" fill="#4277C0"/>
<path d="M449.3 1243.9L452.7 1247.3L449.3 1250.7L445.9 1247.3Z" fill="#4277C0"/>
<path d="M492.1 1247.1L495.5 1250.5L492.1 1253.9L488.7 1250.5Z" fill="#4277C0"/>
<path d="M534.9 1186.2L538.3 1189.6L534.9 1193.0L531.5 1189.6Z" fill="#4277C0"/>
<path d="M577.7 1181.0L581.1 1184.4L577.7 1187.8L574.3 1184.4Z" fill="#4277C0"/>
<path d="M620.4 1181.9L623.8 1185.3L620.4 1188.7L617.0 1185.3Z" fill="#4277C0"/>
<text x="56.1" y="1135.9" text-anchor="middle" class="dl" fill="#1A80D4" stroke="#1A80D4" stroke-width="0.1">398.32</text>
<text x="157" y="1252.9" text-anchor="middle" class="dl" fill="#1A80D4" stroke="#1A80D4" stroke-width="0.1">313.09</text>
<text x="280" y="1246.4" text-anchor="middle" class="dl" fill="#1A80D4" stroke="#1A80D4" stroke-width="0.1">319.34</text>
<text x="526.3" y="1187.4" text-anchor="middle" class="dl" fill="#1A80D4" stroke="#1A80D4" stroke-width="0.1">359.83</text>
<text x="619.2" y="1178.7" text-anchor="middle" class="dl" fill="#1A80D4" stroke="#1A80D4" stroke-width="0.1">363.54</text>
<text x="62" y="1168.4" text-anchor="middle" class="dl" fill="#00B050" stroke="#00B050" stroke-width="0.1">410.18</text>
<text x="151.1" y="1280.1" text-anchor="middle" class="dl" fill="#00B050" stroke="#00B050" stroke-width="0.1">310.44</text>
<text x="277.6" y="1271.3" text-anchor="middle" class="dl" fill="#00B050" stroke="#00B050" stroke-width="0.1">319.10</text>
<text x="539.8" y="1202.0" text-anchor="middle" class="dl" fill="#00B050" stroke="#00B050" stroke-width="0.1">366.35</text>
<text x="614" y="1198.7" text-anchor="middle" class="dl" fill="#00B050" stroke="#00B050" stroke-width="0.1">366.57</text>
<text x="61" y="1234.7" text-anchor="middle" class="dl" fill="#DC2330" stroke="#DC2330" stroke-width="0.1">335.55</text>
<text x="158.4" y="1214.9" text-anchor="middle" class="dl" fill="#DC2330" stroke="#DC2330" stroke-width="0.1">327.10</text>
<text x="280" y="1229.5" text-anchor="middle" class="dl" fill="#DC2330" stroke="#DC2330" stroke-width="0.1">320.56</text>
<text x="530.1" y="1244.4" text-anchor="middle" class="dl" fill="#DC2330" stroke="#DC2330" stroke-width="0.1">325.35</text>
<text x="612" y="1219.2" text-anchor="middle" class="dl" fill="#DC2330" stroke="#DC2330" stroke-width="0.1">347.55</text>
<line x1="119.5" y1="1094.3" x2="138" y2="1094.3" stroke="#4277C0" stroke-width="2.2"/>
<path d="M128.8 1091.2L131.8 1094.3L128.8 1097.4L125.7 1094.3Z" fill="#4277C0"/>
<text x="139.5" y="1094.9" class="leg">CIOPI中国铁矿石价格指数</text>
<line x1="278.5" y1="1094.6" x2="296.6" y2="1094.6" stroke="#C44646" stroke-width="2.2"/>
<rect x="284.6" y="1091.6" width="6" height="6" fill="#C44646"/>
<text x="298.1" y="1095.2" class="leg">国产铁矿石价格指数</text>
<line x1="416" y1="1094" x2="434.5" y2="1094" stroke="#98BE55" stroke-width="2.2"/>
<path d="M425.2 1090.6L428.6 1096.5L421.9 1096.5Z" fill="#98BE55"/>
<text x="436.0" y="1094.6" class="leg">进口铁矿石价格指数</text>
</svg>
</body></html>
